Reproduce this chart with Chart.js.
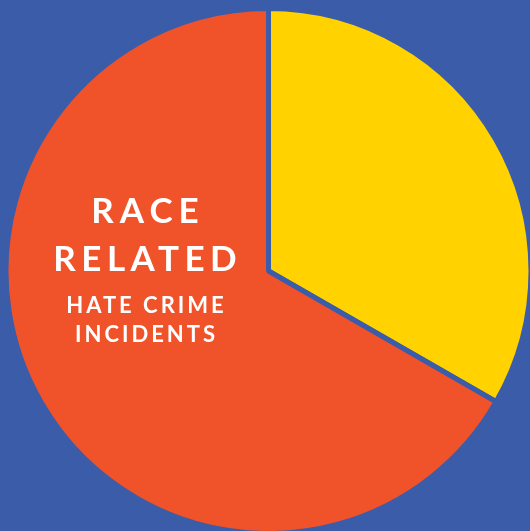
<!DOCTYPE html>
<html>
<head>
<meta charset="utf-8">
<script src="https://cdn.jsdelivr.net/npm/chart.js@4/dist/chart.umd.min.js"></script>
<style>
html,body{margin:0;padding:0;background:#3b5ca8;}
#wrap{width:530px;height:531px;position:relative;}
</style>
</head>
<body>
<div id="wrap"><canvas id="c" width="530" height="531"></canvas></div>
<script>
const categories = ["Other", "Race related"];
const values = [33.3, 66.7];
const colors = ["#ffd200", "#f0532a"];
const labelLines = ["RACE", "RELATED", "HATE CRIME", "INCIDENTS"];

const textPlugin = {
  id: 'centerText',
  afterDraw(chart) {
    const ctx = chart.ctx;
    const specs = [
      {t: labelLines[0], size: 35, sp: 6, y: 223},
      {t: labelLines[1], size: 35, sp: 5.5, y: 271},
      {t: labelLines[2], size: 22, sp: 3, y: 313},
      {t: labelLines[3], size: 22, sp: 3, y: 342}
    ];
    ctx.save();
    ctx.fillStyle = '#ffffff';
    ctx.textBaseline = 'alphabetic';
    ctx.textAlign = 'left';
    specs.forEach(s => {
      ctx.font = 'bold ' + s.size + 'px Lato';
      ctx.letterSpacing = s.sp + 'px';
      const w = ctx.measureText(s.t).width - s.sp;
      ctx.fillText(s.t, 145 - w / 2, s.y);
    });
    ctx.restore();
  }
};

new Chart(document.getElementById('c'), {
  type: 'pie',
  data: {
    labels: categories,
    datasets: [{
      data: values,
      backgroundColor: colors,
      borderColor: '#3b5ca8',
      borderWidth: 5,
      hoverOffset: 0,
      radius: 262.5
    }]
  },
  options: {
    responsive: false,
    animation: false,
    layout: {padding: {left: 7, right: 0, top: 11, bottom: 0}},
    plugins: {legend: {display: false}, tooltip: {enabled: false}}
  },
  plugins: [textPlugin]
});
</script>
</body>
</html>
